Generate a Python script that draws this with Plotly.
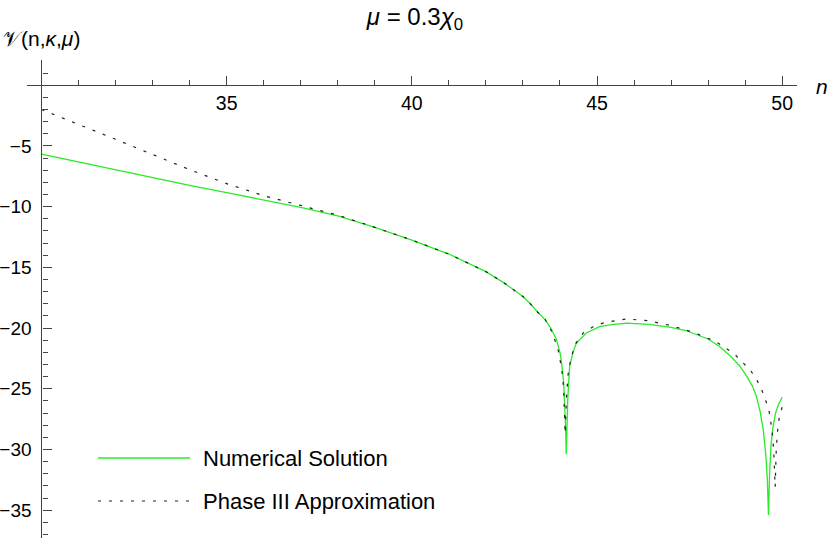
import plotly.graph_objects as go

# ---- data ----
n_numerical = [30, 31, 32, 33, 34, 35, 36, 37, 38, 39, 40, 41, 42, 42.5, 43, 43.2,
               43.4, 43.6, 43.75, 43.9, 44.0, 44.05, 44.1, 44.13, 44.15, 44.17,
               44.19, 44.21, 44.26, 44.35, 44.44, 44.71, 45.07, 45.4, 45.8, 46.4,
               47.0, 47.4, 48.0, 48.3, 48.6, 48.85, 49.05, 49.2, 49.3, 49.4, 49.49,
               49.56, 49.6, 49.63, 49.66, 49.7, 49.75, 49.82, 49.9, 50.0]
v_numerical = [-5.68, -6.33, -6.98, -7.62, -8.25, -8.85, -9.45, -10.05, -10.75, -11.7,
               -12.75, -13.9, -15.35, -16.3, -17.4, -18.0,
               -18.7, -19.3, -20.0, -20.9, -22.0, -23.0, -24.5, -26.2, -28.0, -30.4,
               -27.5, -25.9, -23.2, -22.0, -21.25, -20.4, -19.88, -19.72, -19.6, -19.7,
               -19.95, -20.2, -20.9, -21.5, -22.3, -23.1, -24.0, -24.8, -25.6, -26.8, -28.4,
               -30.5, -32.5, -35.4, -32.0, -29.6, -28.2, -27.0, -26.3, -25.7]

n_phase3 = [30, 31, 32, 33, 34, 35, 36, 37, 38, 39, 40, 41, 42, 42.5, 43, 43.2,
            43.4, 43.6, 43.8, 43.95, 44.05, 44.1, 44.14, 44.18, 44.22, 44.3, 44.44,
            44.63, 44.89, 45.2, 45.8, 46.4, 47.0, 47.6, 48.2, 48.7, 49.15, 49.32,
            49.45, 49.56, 49.65, 49.72, 49.77, 49.81, 49.84, 49.88, 49.92, 50.0]
v_phase3 = [-2.0, -3.2, -4.45, -5.7, -6.95, -8.1, -9.1, -9.9, -10.7, -11.7,
            -12.75, -13.9, -15.35, -16.3, -17.4, -18.0,
            -18.7, -19.3, -20.4, -21.8, -23.4, -25.0, -28.7, -25.5, -23.8, -22.4, -21.2,
            -20.4, -19.9, -19.55, -19.25, -19.4, -19.8, -20.35, -21.1, -22.1, -23.5, -24.3,
            -25.1, -26.0, -26.9, -28.3, -30.0, -33.1, -30.0, -28.3, -27.4, -26.5]

x_tick_vals = [35, 40, 45, 50]
y_tick_vals = [-35, -30, -25, -20, -15, -10, -5]

series_names = ["Numerical Solution", "Phase III Approximation"]
title_text = "<i>μ</i> = 0.3<i>χ</i><sub>0</sub>"
y_label = "𝒱(n,<i>κ</i>,<i>μ</i>)"
x_label = "<i>n</i>"

# ---- layout geometry (page pixels; body margin removed via post_script) ----
W, H = 830, 540
ML, MT = 27, 60          # plot area left/top
PR, PB = 797, 538        # plot area right/bottom
MR, MB = W - PR, H - PB
x_range = [29.61, 50.40]
y_range = [-37.29, 2.08]
pw, ph = PR - ML, PB - MT


def px_x(px):
    return (px - ML) / pw


def px_y(py):
    return (PB - py) / ph


FONT = "Liberation Sans, Arial, Helvetica, sans-serif"
GREEN = "rgb(40,235,40)"
AXIS = "#444444"

fig = go.Figure()
fig.add_trace(go.Scatter(x=n_numerical, y=v_numerical, mode="lines",
                         line=dict(color=GREEN, width=1.3), name=series_names[0]))
fig.add_trace(go.Scatter(x=n_phase3, y=v_phase3, mode="lines",
                         line=dict(color="#222222", width=1.2, dash="3px,8px"),
                         name=series_names[1]))

x_pos = (0 - y_range[0]) / (y_range[1] - y_range[0])
y_pos = (30 - x_range[0]) / (x_range[1] - x_range[0])

fig.update_layout(
    width=W, height=H,
    margin=dict(l=ML, r=MR, t=MT, b=MB, autoexpand=False),
    paper_bgcolor="white", plot_bgcolor="white",
    showlegend=False,
    font=dict(family=FONT, color="black"),
    title=dict(text=title_text, x=415 / W, xref="container", xanchor="center",
               y=1 - 17 / H, yref="container", yanchor="middle",
               font=dict(size=24, family=FONT, color="black")),
    xaxis=dict(range=x_range, anchor="free", position=x_pos, showgrid=False,
               zeroline=False, showline=True, linecolor=AXIS, linewidth=1.2,
               tickmode="array", tickvals=x_tick_vals, ticks="inside", ticklen=9,
               tickwidth=1.2, tickcolor=AXIS,
               tickfont=dict(size=19.5, family=FONT, color="black"),
               minor=dict(ticks="inside", ticklen=5, tickwidth=1, tickcolor=AXIS,
                          tickmode="linear", tick0=30, dtick=1, showgrid=False)),
    yaxis=dict(range=y_range, anchor="free", position=y_pos, showgrid=False,
               zeroline=False, showline=True, linecolor=AXIS, linewidth=1.2,
               tickmode="array", tickvals=y_tick_vals, ticks="inside", ticklen=9,
               tickwidth=1.2, tickcolor=AXIS, ticklabelstandoff=6,
               tickfont=dict(size=19, family=FONT, color="black"),
               minor=dict(ticks="inside", ticklen=5, tickwidth=1, tickcolor=AXIS,
                          tickmode="linear", tick0=0, dtick=1, showgrid=False)),
)

# axis labels
fig.add_annotation(text=y_label, xref="paper", yref="paper", x=px_x(1), y=px_y(38),
                   xanchor="left", yanchor="middle", showarrow=False,
                   font=dict(size=21, family=FONT, color="black"))
fig.add_annotation(text=x_label, xref="paper", yref="paper", x=px_x(814), y=px_y(87),
                   xanchor="left", yanchor="middle", showarrow=False,
                   font=dict(size=21, family=FONT, color="black"))

# manual legend
leg_rows = [(458, dict(color=GREEN, width=1.3)),
            (501, dict(color="#222222", width=1.2, dash="3px,8px"))]
for (py, ln), name in zip(leg_rows, series_names):
    fig.add_shape(type="line", xref="paper", yref="paper",
                  x0=px_x(98), x1=px_x(190), y0=px_y(py), y1=px_y(py), line=ln)
    fig.add_annotation(text=name, xref="paper", yref="paper", x=px_x(201), y=px_y(py),
                       xanchor="left", yanchor="middle", showarrow=False,
                       font=dict(size=22, family=FONT, color="black"))

fig.write_html("out.html",
               config={"displayModeBar": False},
               post_script="document.body.style.margin='0';"
                           "document.body.style.overflow='hidden';")
